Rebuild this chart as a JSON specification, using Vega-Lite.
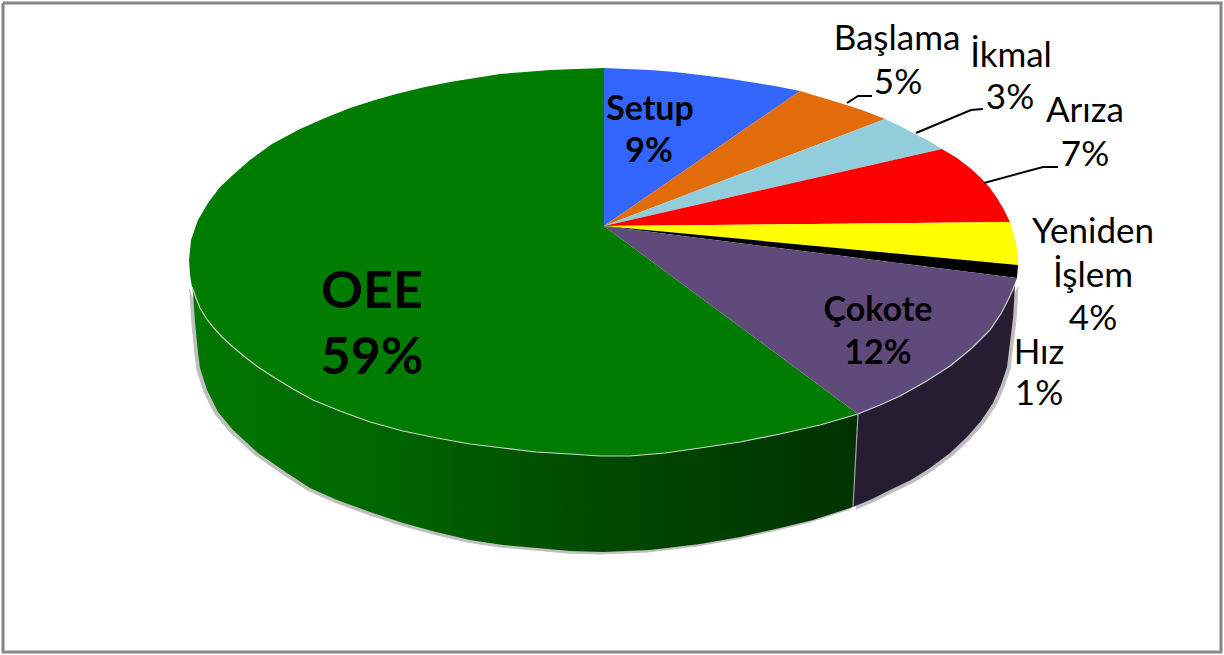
{
  "$schema": "https://vega.github.io/schema/vega-lite/v6.json",
  "description": "OEE loss breakdown drawn as a tilted pie; slice outlines are read off the picture because the arc mark cannot draw an ellipse.",
  "width": 1224,
  "height": 655,
  "padding": 0,
  "autosize": {"type": "none"},
  "background": "white",
  "config": {"view": {"stroke": null}},
  "datasets": {
    "slices": [
      {"part":"OEE","i":0,"x":604,"y":226},{"part":"OEE","i":1,"x":604,"y":68},{"part":"OEE","i":2,"x":577,"y":69},{"part":"OEE","i":3,"x":550,"y":70},{"part":"OEE","i":4,"x":525,"y":72},{"part":"OEE","i":5,"x":500,"y":74},{"part":"OEE","i":6,"x":475,"y":78},{"part":"OEE","i":7,"x":450,"y":82},{"part":"OEE","i":8,"x":425,"y":87},{"part":"OEE","i":9,"x":400,"y":93},{"part":"OEE","i":10,"x":375,"y":100},{"part":"OEE","i":11,"x":350,"y":108},{"part":"OEE","i":12,"x":325,"y":118},{"part":"OEE","i":13,"x":300,"y":129},{"part":"OEE","i":14,"x":272,"y":144},{"part":"OEE","i":15,"x":250,"y":160},{"part":"OEE","i":16,"x":234,"y":174},{"part":"OEE","i":17,"x":220,"y":187},{"part":"OEE","i":18,"x":208,"y":203},{"part":"OEE","i":19,"x":198,"y":220},{"part":"OEE","i":20,"x":191,"y":240},{"part":"OEE","i":21,"x":189,"y":260},{"part":"OEE","i":22,"x":190,"y":275},{"part":"OEE","i":23,"x":192,"y":287},{"part":"OEE","i":24,"x":196,"y":298},{"part":"OEE","i":25,"x":200,"y":308},{"part":"OEE","i":26,"x":206,"y":318},{"part":"OEE","i":27,"x":213,"y":327},{"part":"OEE","i":28,"x":222,"y":337},{"part":"OEE","i":29,"x":233,"y":347},{"part":"OEE","i":30,"x":245,"y":357},{"part":"OEE","i":31,"x":258,"y":367},{"part":"OEE","i":32,"x":275,"y":378},{"part":"OEE","i":33,"x":293,"y":389},{"part":"OEE","i":34,"x":313,"y":400},{"part":"OEE","i":35,"x":340,"y":411},{"part":"OEE","i":36,"x":370,"y":422},{"part":"OEE","i":37,"x":403,"y":431},{"part":"OEE","i":38,"x":437,"y":438},{"part":"OEE","i":39,"x":470,"y":444},{"part":"OEE","i":40,"x":503,"y":448},{"part":"OEE","i":41,"x":536,"y":452},{"part":"OEE","i":42,"x":570,"y":454},{"part":"OEE","i":43,"x":600,"y":456},{"part":"OEE","i":44,"x":630,"y":456},{"part":"OEE","i":45,"x":665,"y":453},{"part":"OEE","i":46,"x":700,"y":448},{"part":"OEE","i":47,"x":740,"y":442},{"part":"OEE","i":48,"x":780,"y":434},{"part":"OEE","i":49,"x":820,"y":425},{"part":"OEE","i":50,"x":858,"y":414},
      {"part":"Setup","i":0,"x":604,"y":226},{"part":"Setup","i":1,"x":604,"y":68},{"part":"Setup","i":2,"x":627,"y":69},{"part":"Setup","i":3,"x":650,"y":70},{"part":"Setup","i":4,"x":675,"y":72},{"part":"Setup","i":5,"x":700,"y":75},{"part":"Setup","i":6,"x":725,"y":78},{"part":"Setup","i":7,"x":750,"y":82},{"part":"Setup","i":8,"x":775,"y":86},{"part":"Setup","i":9,"x":800,"y":91},
      {"part":"Başlama","i":0,"x":604,"y":226},{"part":"Başlama","i":1,"x":800,"y":91},{"part":"Başlama","i":2,"x":820,"y":97},{"part":"Başlama","i":3,"x":840,"y":103},{"part":"Başlama","i":4,"x":862,"y":110},{"part":"Başlama","i":5,"x":885,"y":119},
      {"part":"İkmal","i":0,"x":604,"y":226},{"part":"İkmal","i":1,"x":885,"y":119},{"part":"İkmal","i":2,"x":900,"y":126},{"part":"İkmal","i":3,"x":915,"y":134},{"part":"İkmal","i":4,"x":929,"y":141},{"part":"İkmal","i":5,"x":942,"y":149},
      {"part":"Arıza","i":0,"x":604,"y":226},{"part":"Arıza","i":1,"x":942,"y":149},{"part":"Arıza","i":2,"x":957,"y":158},{"part":"Arıza","i":3,"x":970,"y":168},{"part":"Arıza","i":4,"x":981,"y":178},{"part":"Arıza","i":5,"x":990,"y":188},{"part":"Arıza","i":6,"x":997,"y":198},{"part":"Arıza","i":7,"x":1003,"y":208},{"part":"Arıza","i":8,"x":1010,"y":222},
      {"part":"Yeniden İşlem","i":0,"x":604,"y":226},{"part":"Yeniden İşlem","i":1,"x":1010,"y":222},{"part":"Yeniden İşlem","i":2,"x":1013,"y":232},{"part":"Yeniden İşlem","i":3,"x":1016,"y":243},{"part":"Yeniden İşlem","i":4,"x":1018,"y":254},{"part":"Yeniden İşlem","i":5,"x":1018,"y":265},
      {"part":"Hız","i":0,"x":604,"y":226},{"part":"Hız","i":1,"x":1018,"y":265},{"part":"Hız","i":2,"x":1017,"y":278},
      {"part":"Çokote","i":0,"x":604,"y":226},{"part":"Çokote","i":1,"x":1017,"y":278},{"part":"Çokote","i":2,"x":1010,"y":296},{"part":"Çokote","i":3,"x":1002,"y":312},{"part":"Çokote","i":4,"x":990,"y":330},{"part":"Çokote","i":5,"x":972,"y":348},{"part":"Çokote","i":6,"x":950,"y":366},{"part":"Çokote","i":7,"x":925,"y":382},{"part":"Çokote","i":8,"x":900,"y":396},{"part":"Çokote","i":9,"x":880,"y":405},{"part":"Çokote","i":10,"x":858,"y":414}
    ],
    "sideOee": [
      {"i":0,"x":192,"y":287},{"i":1,"x":196,"y":298},{"i":2,"x":200,"y":308},{"i":3,"x":206,"y":318},{"i":4,"x":213,"y":327},{"i":5,"x":222,"y":337},{"i":6,"x":233,"y":347},{"i":7,"x":245,"y":357},{"i":8,"x":258,"y":367},{"i":9,"x":275,"y":378},{"i":10,"x":293,"y":389},{"i":11,"x":313,"y":400},{"i":12,"x":340,"y":411},{"i":13,"x":370,"y":422},{"i":14,"x":403,"y":431},{"i":15,"x":437,"y":438},{"i":16,"x":470,"y":444},{"i":17,"x":503,"y":448},{"i":18,"x":536,"y":452},{"i":19,"x":570,"y":454},{"i":20,"x":600,"y":456},{"i":21,"x":630,"y":456},{"i":22,"x":665,"y":453},{"i":23,"x":700,"y":448},{"i":24,"x":740,"y":442},{"i":25,"x":780,"y":434},{"i":26,"x":820,"y":425},{"i":27,"x":858,"y":414},
      {"i":28,"x":853,"y":507},{"i":29,"x":813,"y":520},{"i":30,"x":780,"y":528},{"i":31,"x":740,"y":537},{"i":32,"x":700,"y":544},{"i":33,"x":650,"y":550},{"i":34,"x":603,"y":552},{"i":35,"x":570,"y":551},{"i":36,"x":537,"y":548},{"i":37,"x":503,"y":545},{"i":38,"x":470,"y":540},{"i":39,"x":436,"y":532},{"i":40,"x":403,"y":523},{"i":41,"x":370,"y":512},{"i":42,"x":337,"y":500},{"i":43,"x":310,"y":488},{"i":44,"x":287,"y":473},{"i":45,"x":258,"y":453},{"i":46,"x":233,"y":430},{"i":47,"x":218,"y":412},{"i":48,"x":207,"y":390},{"i":49,"x":200,"y":368},{"i":50,"x":198,"y":353},{"i":51,"x":195,"y":322},{"i":52,"x":193,"y":293}
    ],
    "sideCokote": [
      {"i":0,"x":858,"y":414},{"i":1,"x":880,"y":405},{"i":2,"x":900,"y":396},{"i":3,"x":925,"y":382},{"i":4,"x":950,"y":366},{"i":5,"x":972,"y":348},{"i":6,"x":990,"y":330},{"i":7,"x":1002,"y":312},{"i":8,"x":1010,"y":296},{"i":9,"x":1015,"y":285},{"i":10,"x":1013,"y":318},{"i":11,"x":1010,"y":343},{"i":12,"x":1007,"y":367},{"i":13,"x":1001,"y":385},{"i":14,"x":993,"y":403},{"i":15,"x":981,"y":421},{"i":16,"x":967,"y":437},{"i":17,"x":950,"y":453},{"i":18,"x":930,"y":468},{"i":19,"x":911,"y":480},{"i":20,"x":890,"y":490},{"i":21,"x":872,"y":499},{"i":22,"x":853,"y":507}
    ],
    "rim": [
      {"i":0,"x":192,"y":287},{"i":1,"x":196,"y":298},{"i":2,"x":200,"y":308},{"i":3,"x":206,"y":318},{"i":4,"x":213,"y":327},{"i":5,"x":222,"y":337},{"i":6,"x":233,"y":347},{"i":7,"x":245,"y":357},{"i":8,"x":258,"y":367},{"i":9,"x":275,"y":378},{"i":10,"x":293,"y":389},{"i":11,"x":313,"y":400},{"i":12,"x":340,"y":411},{"i":13,"x":370,"y":422},{"i":14,"x":403,"y":431},{"i":15,"x":437,"y":438},{"i":16,"x":470,"y":444},{"i":17,"x":503,"y":448},{"i":18,"x":536,"y":452},{"i":19,"x":570,"y":454},{"i":20,"x":600,"y":456},{"i":21,"x":630,"y":456},{"i":22,"x":665,"y":453},{"i":23,"x":700,"y":448},{"i":24,"x":740,"y":442},{"i":25,"x":780,"y":434},{"i":26,"x":820,"y":425},{"i":27,"x":858,"y":414},{"i":28,"x":880,"y":405},{"i":29,"x":900,"y":396},{"i":30,"x":925,"y":382},{"i":31,"x":950,"y":366},{"i":32,"x":972,"y":348},{"i":33,"x":990,"y":330},{"i":34,"x":1002,"y":312},{"i":35,"x":1010,"y":296},{"i":36,"x":1015,"y":285}
    ],
    "leaders": [
      {"to":"Başlama","i":0,"x":847,"y":103},{"to":"Başlama","i":1,"x":858,"y":96},{"to":"Başlama","i":2,"x":872,"y":96},
      {"to":"İkmal","i":0,"x":916,"y":133},{"to":"İkmal","i":1,"x":971,"y":110},{"to":"İkmal","i":2,"x":983,"y":109},
      {"to":"Arıza","i":0,"x":984,"y":183},{"to":"Arıza","i":1,"x":1043,"y":167},{"to":"Arıza","i":2,"x":1058,"y":167},
      {"to":"Çokote","i":0,"x":858,"y":414},{"to":"Çokote","i":1,"x":853,"y":507}
    ],
    "frame": [
      {"i":0,"x":3,"y":3},{"i":1,"x":1221,"y":3},{"i":2,"x":1221,"y":652},{"i":3,"x":3,"y":652},{"i":4,"x":3,"y":3}
    ],
    "outerLabels": [
      {"text":"Başlama","x":897,"y":39},{"text":"5%","x":898,"y":83},
      {"text":"İkmal","x":1011,"y":56},{"text":"3%","x":1010,"y":98},
      {"text":"Arıza","x":1085,"y":111},{"text":"7%","x":1085,"y":155},
      {"text":"Yeniden","x":1093,"y":232},{"text":"İşlem","x":1093,"y":276},{"text":"4%","x":1093,"y":319},
      {"text":"Hız","x":1039,"y":353},{"text":"1%","x":1039,"y":394}
    ],
    "innerLabels": [
      {"text":"Setup","x":650,"y":110},{"text":"9%","x":649,"y":152},
      {"text":"Çokote","x":878,"y":311},{"text":"12%","x":878,"y":354}
    ],
    "mainLabels": [
      {"text":"OEE","x":372,"y":292},{"text":"59%","x":372,"y":358}
    ]
  },
  "encoding": {
    "x": {"field": "x", "type": "quantitative", "axis": null, "scale": {"domain": [0, 1224], "nice": false, "zero": false}},
    "y": {"field": "y", "type": "quantitative", "axis": null, "scale": {"domain": [655, 0], "nice": false, "zero": false}},
    "order": {"field": "i", "type": "ordinal"}
  },
  "layer": [
    {
      "data": {"name": "sideOee"},
      "mark": {"type": "line", "fill": "#8c8c8c", "stroke": "#8c8c8c", "strokeWidth": 1, "opacity": 0.55, "xOffset": -3, "yOffset": 2}
    },
    {
      "data": {"name": "sideCokote"},
      "mark": {"type": "line", "fill": "#8c8c8c", "stroke": "#8c8c8c", "strokeWidth": 1, "opacity": 0.55, "xOffset": 3, "yOffset": 2}
    },
    {
      "data": {"name": "sideOee"},
      "mark": {
        "type": "line",
        "stroke": null,
        "fill": {
          "gradient": "linear", "x1": 0, "y1": 0, "x2": 1, "y2": 0,
          "stops": [
            {"offset": 0, "color": "#007800"},
            {"offset": 0.3, "color": "#006400"},
            {"offset": 0.6, "color": "#004a00"},
            {"offset": 1, "color": "#003200"}
          ]
        }
      }
    },
    {
      "data": {"name": "sideCokote"},
      "mark": {"type": "line", "stroke": null, "fill": "#261d33"}
    },
    {
      "data": {"name": "slices"},
      "mark": {"type": "line", "stroke": null},
      "encoding": {
        "fill": {
          "field": "part",
          "type": "nominal",
          "legend": null,
          "scale": {
            "domain": ["OEE", "Setup", "Başlama", "İkmal", "Arıza", "Yeniden İşlem", "Hız", "Çokote"],
            "range": ["#007d00", "#3366ff", "#e26b0a", "#92cddc", "#ff0000", "#ffff00", "#000000", "#604a7b"]
          }
        },
        "detail": {"field": "part"}
      }
    },
    {
      "data": {"name": "rim"},
      "mark": {"type": "line", "stroke": "#c4d4c4", "strokeWidth": 1.2}
    },
    {
      "data": {"name": "leaders"},
      "transform": [{"filter": "datum.to !== 'Çokote'"}],
      "mark": {"type": "line", "stroke": "#000000", "strokeWidth": 2},
      "encoding": {"detail": {"field": "to"}}
    },
    {
      "data": {"name": "leaders"},
      "transform": [{"filter": "datum.to === 'Çokote'"}],
      "mark": {"type": "line", "stroke": "#9aa59a", "strokeWidth": 1.2}
    },
    {
      "data": {"name": "frame"},
      "mark": {"type": "line", "stroke": "#868686", "strokeWidth": 3}
    },
    {
      "data": {"name": "outerLabels"},
      "mark": {"type": "text", "font": "Lato", "fontSize": 35, "color": "#000000", "align": "center", "baseline": "middle"},
      "encoding": {"text": {"field": "text"}, "order": null}
    },
    {
      "data": {"name": "innerLabels"},
      "mark": {"type": "text", "font": "Lato", "fontSize": 34, "fontWeight": "bold", "color": "#000000", "align": "center", "baseline": "middle"},
      "encoding": {"text": {"field": "text"}, "order": null}
    },
    {
      "data": {"name": "mainLabels"},
      "mark": {"type": "text", "font": "Lato", "fontSize": 52, "fontWeight": "bold", "color": "#000000", "align": "center", "baseline": "middle"},
      "encoding": {"text": {"field": "text"}, "order": null}
    }
  ]
}
